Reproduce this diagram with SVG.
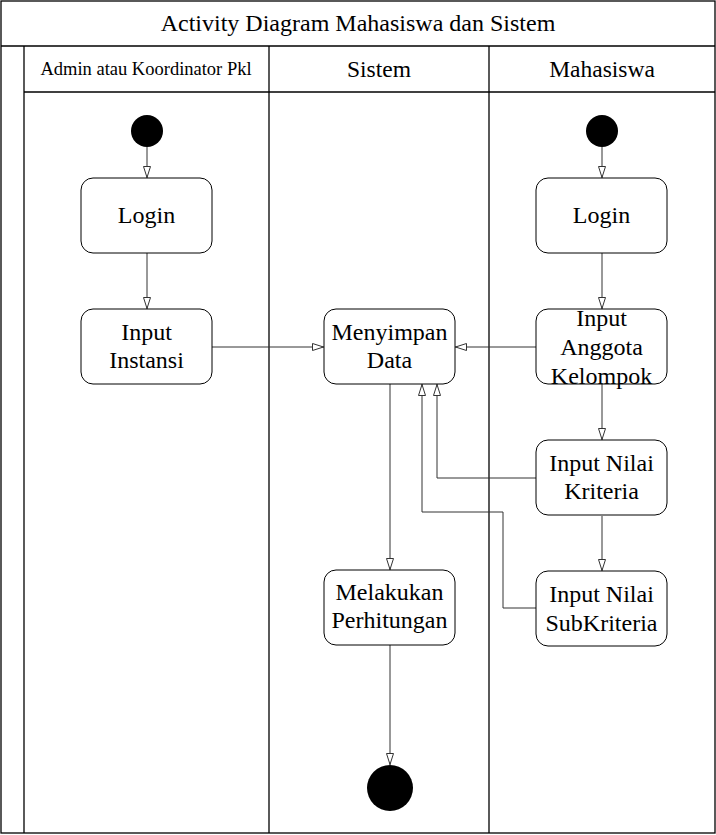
<svg xmlns="http://www.w3.org/2000/svg" width="716" height="835" viewBox="0 0 716 835">
<style>
.frame{fill:none;stroke:#000;stroke-width:1.3}
.node rect{fill:#fff;stroke:#000;stroke-width:1}
text{font-family:'Liberation Serif','DejaVu Serif',serif;fill:#000;text-anchor:middle}
.nt{font-size:24px}
.conn path{fill:none;stroke:#333;stroke-width:1}
</style>
<defs>
<marker id="ah" viewBox="0 0 12 8" refX="12" refY="4" markerWidth="12" markerHeight="8" markerUnits="userSpaceOnUse" orient="auto">
<path d="M0.5,0.5 L11.5,4 L0.5,7.5 Z" fill="#fff" stroke="#333" stroke-width="1"/>
</marker>
</defs>
<rect x="0" y="0" width="716" height="835" fill="#fff"/>
<g id="swimlanes">
<rect class="frame" x="1" y="1" width="714" height="832"/>
<line class="frame" x1="1" y1="46" x2="715" y2="46"/>
<line class="frame" x1="24" y1="46" x2="24" y2="833"/>
<line class="frame" x1="24" y1="92" x2="715" y2="92"/>
<line class="frame" x1="269" y1="46" x2="269" y2="833"/>
<line class="frame" x1="489" y1="46" x2="489" y2="833"/>
<text x="358" y="31" font-size="24">Activity Diagram Mahasiswa dan Sistem</text>
<text x="146" y="75" font-size="18.5">Admin atau Koordinator Pkl</text>
<text x="379" y="77" font-size="23.5">Sistem</text>
<text x="602" y="77" font-size="23.5">Mahasiswa</text>
</g>
<g class="conn" id="connectors">
<path d="M147,147 V178" marker-end="url(#ah)"/>
<path d="M147,253 V309" marker-end="url(#ah)"/>
<path d="M212,347 H324" marker-end="url(#ah)"/>
<path d="M602,147 V178" marker-end="url(#ah)"/>
<path d="M602,253 V309" marker-end="url(#ah)"/>
<path d="M536,347 H455" marker-end="url(#ah)"/>
<path d="M602,384 V440" marker-end="url(#ah)"/>
<path d="M602,516 V571" marker-end="url(#ah)"/>
<path d="M536,478 H437 V384" marker-end="url(#ah)"/>
<path d="M536,608 H503 V512 H422 V384" marker-end="url(#ah)"/>
<path d="M390,384 V570" marker-end="url(#ah)"/>
<path d="M390,645 V765" marker-end="url(#ah)"/>
</g>
<g id="start-admin"><circle cx="147" cy="131" r="16" fill="#000"/></g>
<g id="start-mhs"><circle cx="602" cy="131" r="16" fill="#000"/></g>
<g id="end"><circle cx="390" cy="788" r="23" fill="#000"/></g>
<g class="node" id="login-admin">
<rect x="81" y="178" width="131" height="75" rx="12"/>
<text class="nt" x="146.5" y="223">Login</text>
</g>
<g class="node" id="input-instansi">
<rect x="81" y="309" width="131" height="75" rx="12"/>
<text class="nt" x="146.5" y="340">Input</text>
<text class="nt" x="146.5" y="368">Instansi</text>
</g>
<g class="node" id="menyimpan-data">
<rect x="324" y="309" width="131" height="75" rx="12"/>
<text class="nt" x="389.5" y="340">Menyimpan</text>
<text class="nt" x="389.5" y="368">Data</text>
</g>
<g class="node" id="melakukan-perhitungan">
<rect x="324" y="570" width="131" height="75" rx="12"/>
<text class="nt" x="389.5" y="600">Melakukan</text>
<text class="nt" x="389.5" y="628">Perhitungan</text>
</g>
<g class="node" id="login-mhs">
<rect x="536" y="178" width="131" height="75" rx="12"/>
<text class="nt" x="601.5" y="223">Login</text>
</g>
<g class="node" id="input-anggota">
<rect x="536" y="309" width="131" height="75" rx="12"/>
<text class="nt" x="601.5" y="326">Input</text>
<text class="nt" x="601.5" y="355">Anggota</text>
<text class="nt" x="601.5" y="384">Kelompok</text>
</g>
<g class="node" id="input-kriteria">
<rect x="536" y="440" width="131" height="75" rx="12"/>
<text class="nt" x="601.5" y="471">Input Nilai</text>
<text class="nt" x="601.5" y="499">Kriteria</text>
</g>
<g class="node" id="input-subkriteria">
<rect x="536" y="571" width="131" height="75" rx="12"/>
<text class="nt" x="601.5" y="602">Input Nilai</text>
<text class="nt" x="601.5" y="631">SubKriteria</text>
</g>
</svg>
